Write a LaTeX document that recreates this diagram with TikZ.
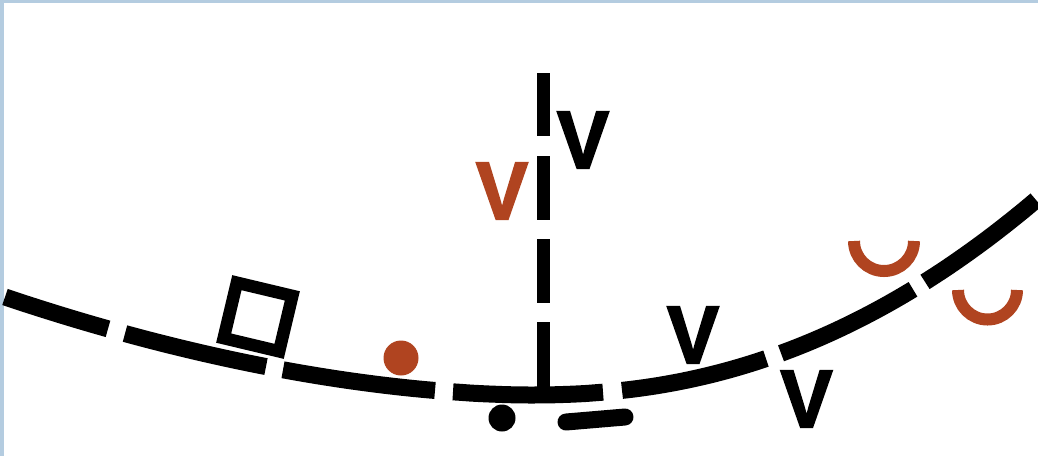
\documentclass[tikz,border=0pt]{standalone}
\usepackage{fontspec}
\newfontfamily\vfont[FakeBold=2.5]{Liberation Sans Bold}
\definecolor{rust}{RGB}{176,68,32}
\definecolor{frameblue}{RGB}{180,204,224}
\begin{document}
\begin{tikzpicture}[x=1pt,y=-1pt,
  declare function={
    cyl(\x)=395-98*((abs(530-\x)/525)^1.8);
    cyr(\x)=395-190*((abs(\x-530)/500)^2.2);
  },
  rail/.style={line width=17pt,line cap=butt,black},
  vletter/.style={inner sep=0pt,outer sep=0pt,font=\vfont\fontsize{82}{82}\selectfont,xscale=0.95},
  cup/.style={line width=12pt,line cap=butt,rust},
]
\useasboundingbox (0,0) rectangle (1038,456);
\fill[frameblue] (0,0) rectangle (1038,3);
\fill[frameblue] (0,0) rectangle (4,456);
% the curved dashed rail
\draw[rail] plot[smooth,samples=12,domain=5:108] (\x,{cyl(\x)});
\draw[rail] plot[smooth,samples=14,domain=125:266] (\x,{cyl(\x)});
\draw[rail] plot[smooth,samples=14,domain=283:435] (\x,{cyl(\x)});
\draw[rail] plot[smooth,samples=10,domain=453:529.5] (\x,{cyl(\x)}) -- plot[smooth,samples=10,domain=530.5:603] (\x,{cyr(\x)});
\draw[rail] plot[smooth,samples=14,domain=622:766] (\x,{cyr(\x)});
\draw[rail] plot[smooth,samples=14,domain=781:913] (\x,{cyr(\x)});
\draw[rail] plot[smooth,samples=12,domain=925:1036] (\x,{cyr(\x)});
% vertical dashed line
\coordinate (v0) at (543.5,73);
\coordinate (v1) at (543.5,136);
\coordinate (v2) at (543.5,156);
\coordinate (v3) at (543.5,220);
\coordinate (v4) at (543.5,239);
\coordinate (v5) at (543.5,303);
\coordinate (v6) at (543.5,322);
\coordinate (v7) at (543.5,392);
\draw[line width=13.5pt] (v0) -- (v1) (v2) -- (v3) (v4) -- (v5) (v6) -- (v7);
% square
\node[draw,line width=12.5pt,minimum size=57pt,inner sep=0pt,rotate=-13.4] (sq) at (258,317) {};
% dots
\node[circle,fill=rust,minimum size=35pt,inner sep=0pt] (rdot) at (401,358) {};
\node[circle,fill=black,minimum size=27pt,inner sep=0pt] (bdot) at (502,418) {};
% small dash below
\coordinate (d0) at (566,422);
\coordinate (d1) at (625,417);
\draw[line width=17pt,line cap=round] (d0) -- (d1);
% V letters
\node[vletter,text=black] (vtop) at (583,140) {V};
\node[vletter,text=rust] (vred) at (502,191) {V};
\node[vletter,text=black] (vmid) at (693,335) {V};
\node[vletter,text=black] (vlow) at (806.5,399) {V};
% cups
\coordinate (c1) at (884,241);
\coordinate (c2) at (987.5,290);
\draw[cup] ([xshift=30pt]c1) arc[start angle=0,end angle=-180,radius=30pt];
\draw[cup] ([xshift=29.5pt]c2) arc[start angle=0,end angle=-180,radius=29.5pt];
\end{tikzpicture}
\end{document}
